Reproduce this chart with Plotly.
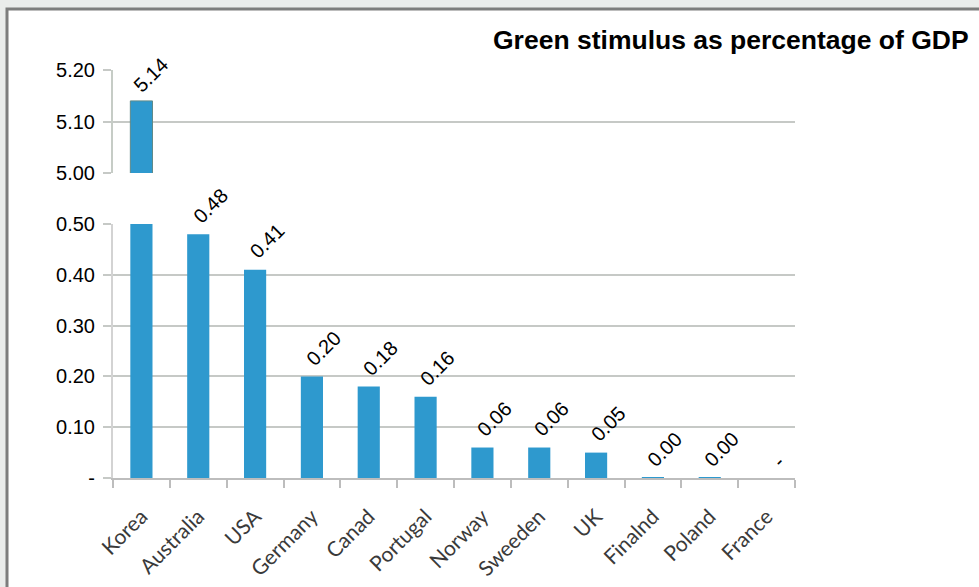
import plotly.graph_objects as go

countries = ["Korea", "Australia", "USA", "Germany", "Canad", "Portugal",
             "Norway", "Sweeden", "UK", "Finalnd", "Poland", "France"]
values = [5.14, 0.48, 0.41, 0.20, 0.18, 0.16, 0.06, 0.06, 0.05, 0.001, 0.001, 0.0]
lower_ticks = [0, 0.1, 0.2, 0.3, 0.4, 0.5]
lower_ticktext = ["-", "0.10", "0.20", "0.30", "0.40", "0.50"]
upper_ticks = [5.0, 5.1, 5.2]
upper_ticktext = ["5.00", "5.10", "5.20"]
title = "Green stimulus as percentage of GDP"

BREAK = 1.0  # values above this are shown in the upper panel


def fmt(v):
    return "-" if v == 0 else f"{v:.2f}"


W, H = 979, 587
L, R, T, B = 113, 795, 70, 478
pw, ph = R - L, B - T

def px(x):
    return (x - L) / pw

def py(y):
    return (B - y) / ph

bar_color = "#2E99CE"
grid_color = "#c6c9c6"
label_font = dict(family="Arial, Liberation Sans", size=20, color="black")

fig = go.Figure()
fig.add_trace(go.Bar(x=countries, y=values, cliponaxis=True,
                     marker=dict(color=bar_color, line=dict(width=0)),
                     xaxis="x", yaxis="y", showlegend=False, hoverinfo="x+y"))
fig.add_trace(go.Bar(x=countries, y=values, cliponaxis=True,
                     marker=dict(color=bar_color, line=dict(width=1, color="#5f8a8a")),
                     xaxis="x2", yaxis="y2", showlegend=False, hoverinfo="x+y"))

annotations = []
for c, v in zip(countries, values):
    upper = v > BREAK
    annotations.append(dict(
        x=c, y=v, xref="x2" if upper else "x", yref="y2" if upper else "y",
        text=fmt(v), textangle=-45, showarrow=False,
        xanchor="center", yanchor="bottom",
        xshift=9 if upper else 12, yshift=2 if upper else 4,
        font=label_font))

tick_font = dict(family="Arial, Liberation Sans", size=20, color="black")

annotations.append(dict(text=f"<b>{title}</b>", xref="paper", yref="paper",
                        x=px(971), y=py(40), xanchor="right", yanchor="middle",
                        showarrow=False,
                        font=dict(family="Arial, Liberation Sans", size=26.5, color="black")))

fig.update_layout(
    width=W, height=H,
    margin=dict(l=L, r=W - R, t=T, b=H - B, pad=0, autoexpand=False),
    paper_bgcolor="#eaeceb",
    plot_bgcolor="rgba(0,0,0,0)",
    bargap=0.61,
    xaxis=dict(domain=[0, 1], anchor="y", type="category", automargin=False,
               showline=True, linecolor="#bdbdbd", linewidth=2,
               ticks="outside", tickson="boundaries", ticklen=8, tickcolor="#bdbdbd", tickwidth=2,
               tickangle=-45, tickfont=dict(family="Lato, Open Sans", size=21, color="#3a3a3a"),
               ticklabelstandoff=16,
               showgrid=False, fixedrange=True),
    yaxis=dict(domain=[0, py(224)], anchor="x", range=[0, 0.5], automargin=False,
               tickvals=lower_ticks, ticktext=lower_ticktext, tickfont=tick_font,
               showgrid=True, gridcolor=grid_color, gridwidth=2,
               showline=True, linecolor="#d3d3d3", linewidth=2,
               ticks="outside", ticklen=8, tickcolor=grid_color, tickwidth=2,
               ticklabelstandoff=4,
               zeroline=False),
    xaxis2=dict(domain=[0, 1], anchor="y2", type="category", matches="x", automargin=False,
                showticklabels=False, ticks="", showline=False, showgrid=False),
    yaxis2=dict(domain=[py(173), 1], anchor="x2", range=[5.0, 5.2], automargin=False,
                tickvals=upper_ticks, ticktext=upper_ticktext, tickfont=tick_font,
                showgrid=True, gridcolor=grid_color, gridwidth=2,
                showline=True, linecolor="#c6ccc6", linewidth=2,
                ticks="outside", ticklen=8, tickcolor=grid_color, tickwidth=2,
                ticklabelstandoff=4,
                zeroline=False),
    shapes=[dict(type="rect", xref="paper", yref="paper", layer="below",
                 x0=px(7), x1=px(1000), y0=py(620), y1=py(9),
                 fillcolor="white", line=dict(color="#7d7d7d", width=3))],
    annotations=annotations,
)

fig.write_html("out.html")
